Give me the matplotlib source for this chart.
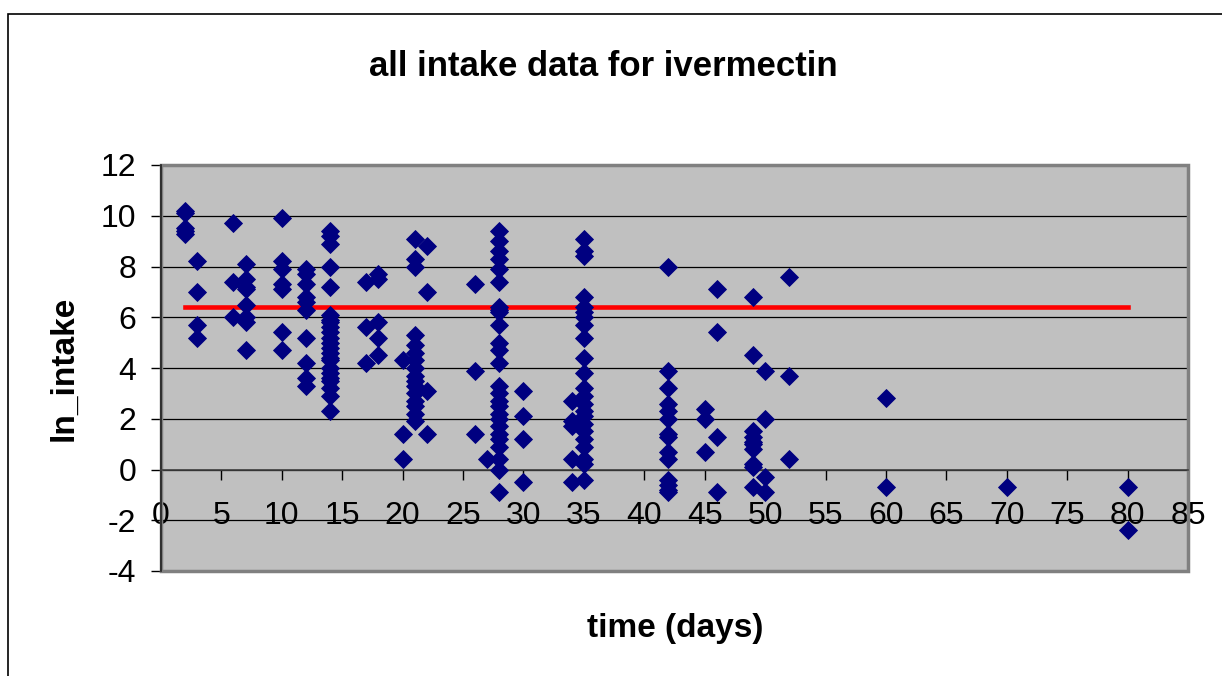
import matplotlib
matplotlib.use('Agg')
import matplotlib.pyplot as plt
from matplotlib.patches import Rectangle

plt.rcParams['font.family'] = ['Liberation Sans', 'DejaVu Sans']
plt.rcParams['axes.unicode_minus'] = False

# ln(intake) readings, grouped by sampling day
days = ([2] * 5 + [3] * 4 + [6] * 3 + [7] * 8 + [10] * 7 + [12] * 10 + [14] * 23
        + [17] * 3 + [18] * 5 + [20] * 3 + [21] * 16 + [22] * 4 + [26] * 3 + [27] * 1
        + [28] * 26 + [30] * 4 + [34] * 5 + [35] * 23 + [42] * 14 + [45] * 3 + [46] * 4
        + [49] * 10 + [50] * 4 + [52] * 3 + [60] * 2 + [70] * 1 + [80] * 2)

ln_intake = [
    10.2, 10.1, 9.5, 9.4, 9.3,                                   # day 2
    8.2, 7.0, 5.7, 5.2,                                          # day 3
    9.7, 7.4, 6.0,                                               # day 6
    8.1, 7.5, 7.2, 7.1, 6.5, 6.0, 5.8, 4.7,                      # day 7
    9.9, 8.2, 7.9, 7.3, 7.1, 5.4, 4.7,                           # day 10
    7.9, 7.7, 7.3, 6.8, 6.6, 6.3, 5.2, 4.2, 3.6, 3.3,            # day 12
    9.4, 9.2, 8.9, 8.0, 7.2, 6.1, 5.9, 5.8, 5.6, 5.4, 5.2, 5.0,
    4.8, 4.6, 4.4, 4.3, 4.0, 3.8, 3.6, 3.5, 3.2, 2.9, 2.3,       # day 14
    7.4, 5.6, 4.2,                                               # day 17
    7.7, 7.5, 5.8, 5.2, 4.5,                                     # day 18
    4.3, 1.4, 0.4,                                               # day 20
    9.1, 8.3, 8.0, 5.3, 4.9, 4.6, 4.3, 4.0, 3.7, 3.5, 3.3, 3.0,
    2.7, 2.5, 2.2, 1.9,                                          # day 21
    8.8, 7.0, 3.1, 1.4,                                          # day 22
    7.3, 3.9, 1.4,                                               # day 26
    0.4,                                                         # day 27
    9.4, 9.0, 8.6, 8.3, 7.9, 7.4, 6.4, 6.3, 6.2, 5.7, 5.0, 4.7,
    4.2, 3.3, 3.0, 2.7, 2.5, 2.2, 2.0, 1.7, 1.4, 1.2, 0.9, 0.4,
    0.0, -0.9,                                                   # day 28
    3.1, 2.1, 1.2, -0.5,                                         # day 30
    2.7, 1.9, 1.7, 0.4, -0.5,                                    # day 34
    9.1, 8.6, 8.4, 6.8, 6.4, 6.2, 6.0, 5.7, 5.2, 4.4, 3.8, 3.2,
    2.9, 2.6, 2.3, 2.1, 1.8, 1.5, 1.2, 0.9, 0.4, 0.2, -0.4,      # day 35
    8.0, 3.9, 3.2, 2.6, 2.3, 2.0, 1.4, 1.3, 0.7, 0.4, -0.4, -0.6,
    -0.8, -0.9,                                                  # day 42
    2.4, 2.0, 0.7,                                               # day 45
    7.1, 5.4, 1.3, -0.9,                                         # day 46
    6.8, 4.5, 1.5, 1.3, 1.1, 1.0, 0.8, 0.2, 0.1, -0.7,           # day 49
    3.9, 2.0, -0.3, -0.9,                                        # day 50
    7.6, 3.7, 0.4,                                               # day 52
    2.8, -0.7,                                                   # day 60
    -0.7,                                                        # day 70
    -0.7, -2.4,                                                  # day 80
]

# red reference line
ref_x = [2, 80]
ref_y = [6.42, 6.42]

x_ticks = list(range(0, 90, 5))
y_ticks = list(range(-4, 14, 2))

W, H = 1222, 676
fig = plt.figure(figsize=(W / 100, H / 100), dpi=100)
ax = fig.add_axes([161 / W, 1 - 571 / H, (1188 - 161) / W, (571 - 165) / H])
ax.set_facecolor('#C0C0C0')

# outer chart frame (runs off the right and bottom edge)
fig.add_artist(Rectangle((8 / W, -0.2), 2.0, 1 - 14 / H + 0.2, transform=fig.transFigure,
                         fill=False, edgecolor='black', linewidth=1.2))

ax.plot(ref_x, ref_y, color='#FF0000', linewidth=3.3, zorder=2)
ax.plot(days, ln_intake, linestyle='none', marker='D', markersize=9,
        color='#000080', markeredgecolor='#000080', markeredgewidth=0.6, zorder=3)

ax.set_xlim(0, 85)
ax.set_ylim(-4, 12)
ax.set_xticks(x_ticks)
ax.set_yticks(y_ticks)
ax.yaxis.grid(True, color='black', linewidth=0.9)
ax.set_axisbelow(True)

for s in ['top', 'right']:
    ax.spines[s].set_visible(False)
ax.spines['left'].set_color('#202020')
ax.spines['left'].set_linewidth(1.2)
ax.spines['bottom'].set_position(('data', 0))
ax.spines['bottom'].set_color('#404040')
ax.spines['bottom'].set_linewidth(1.2)
ax.add_patch(Rectangle((0, 0), 1, 1, transform=ax.transAxes, fill=False,
                       edgecolor='#808080', linewidth=2.5, clip_on=False, zorder=1))

ax.tick_params(axis='x', direction='out', length=7, width=1, pad=16, labelsize=23, colors='black')
ax.tick_params(axis='y', direction='out', length=7, width=1, pad=11, labelsize=23, colors='black')

fig.text(603 / W, 1 - 76 / H, 'all intake data for ivermectin', ha='center', va='baseline',
         fontsize=25, fontweight='bold')
fig.text(675 / W, 1 - 637 / H, 'time (days)', ha='center', va='baseline',
         fontsize=24, fontweight='bold')
fig.text(64 / W, 1 - 368 / H, 'ln_intake', ha='center', va='center', rotation=90,
         fontsize=24, fontweight='bold')

fig.savefig('out.png', dpi=100)
